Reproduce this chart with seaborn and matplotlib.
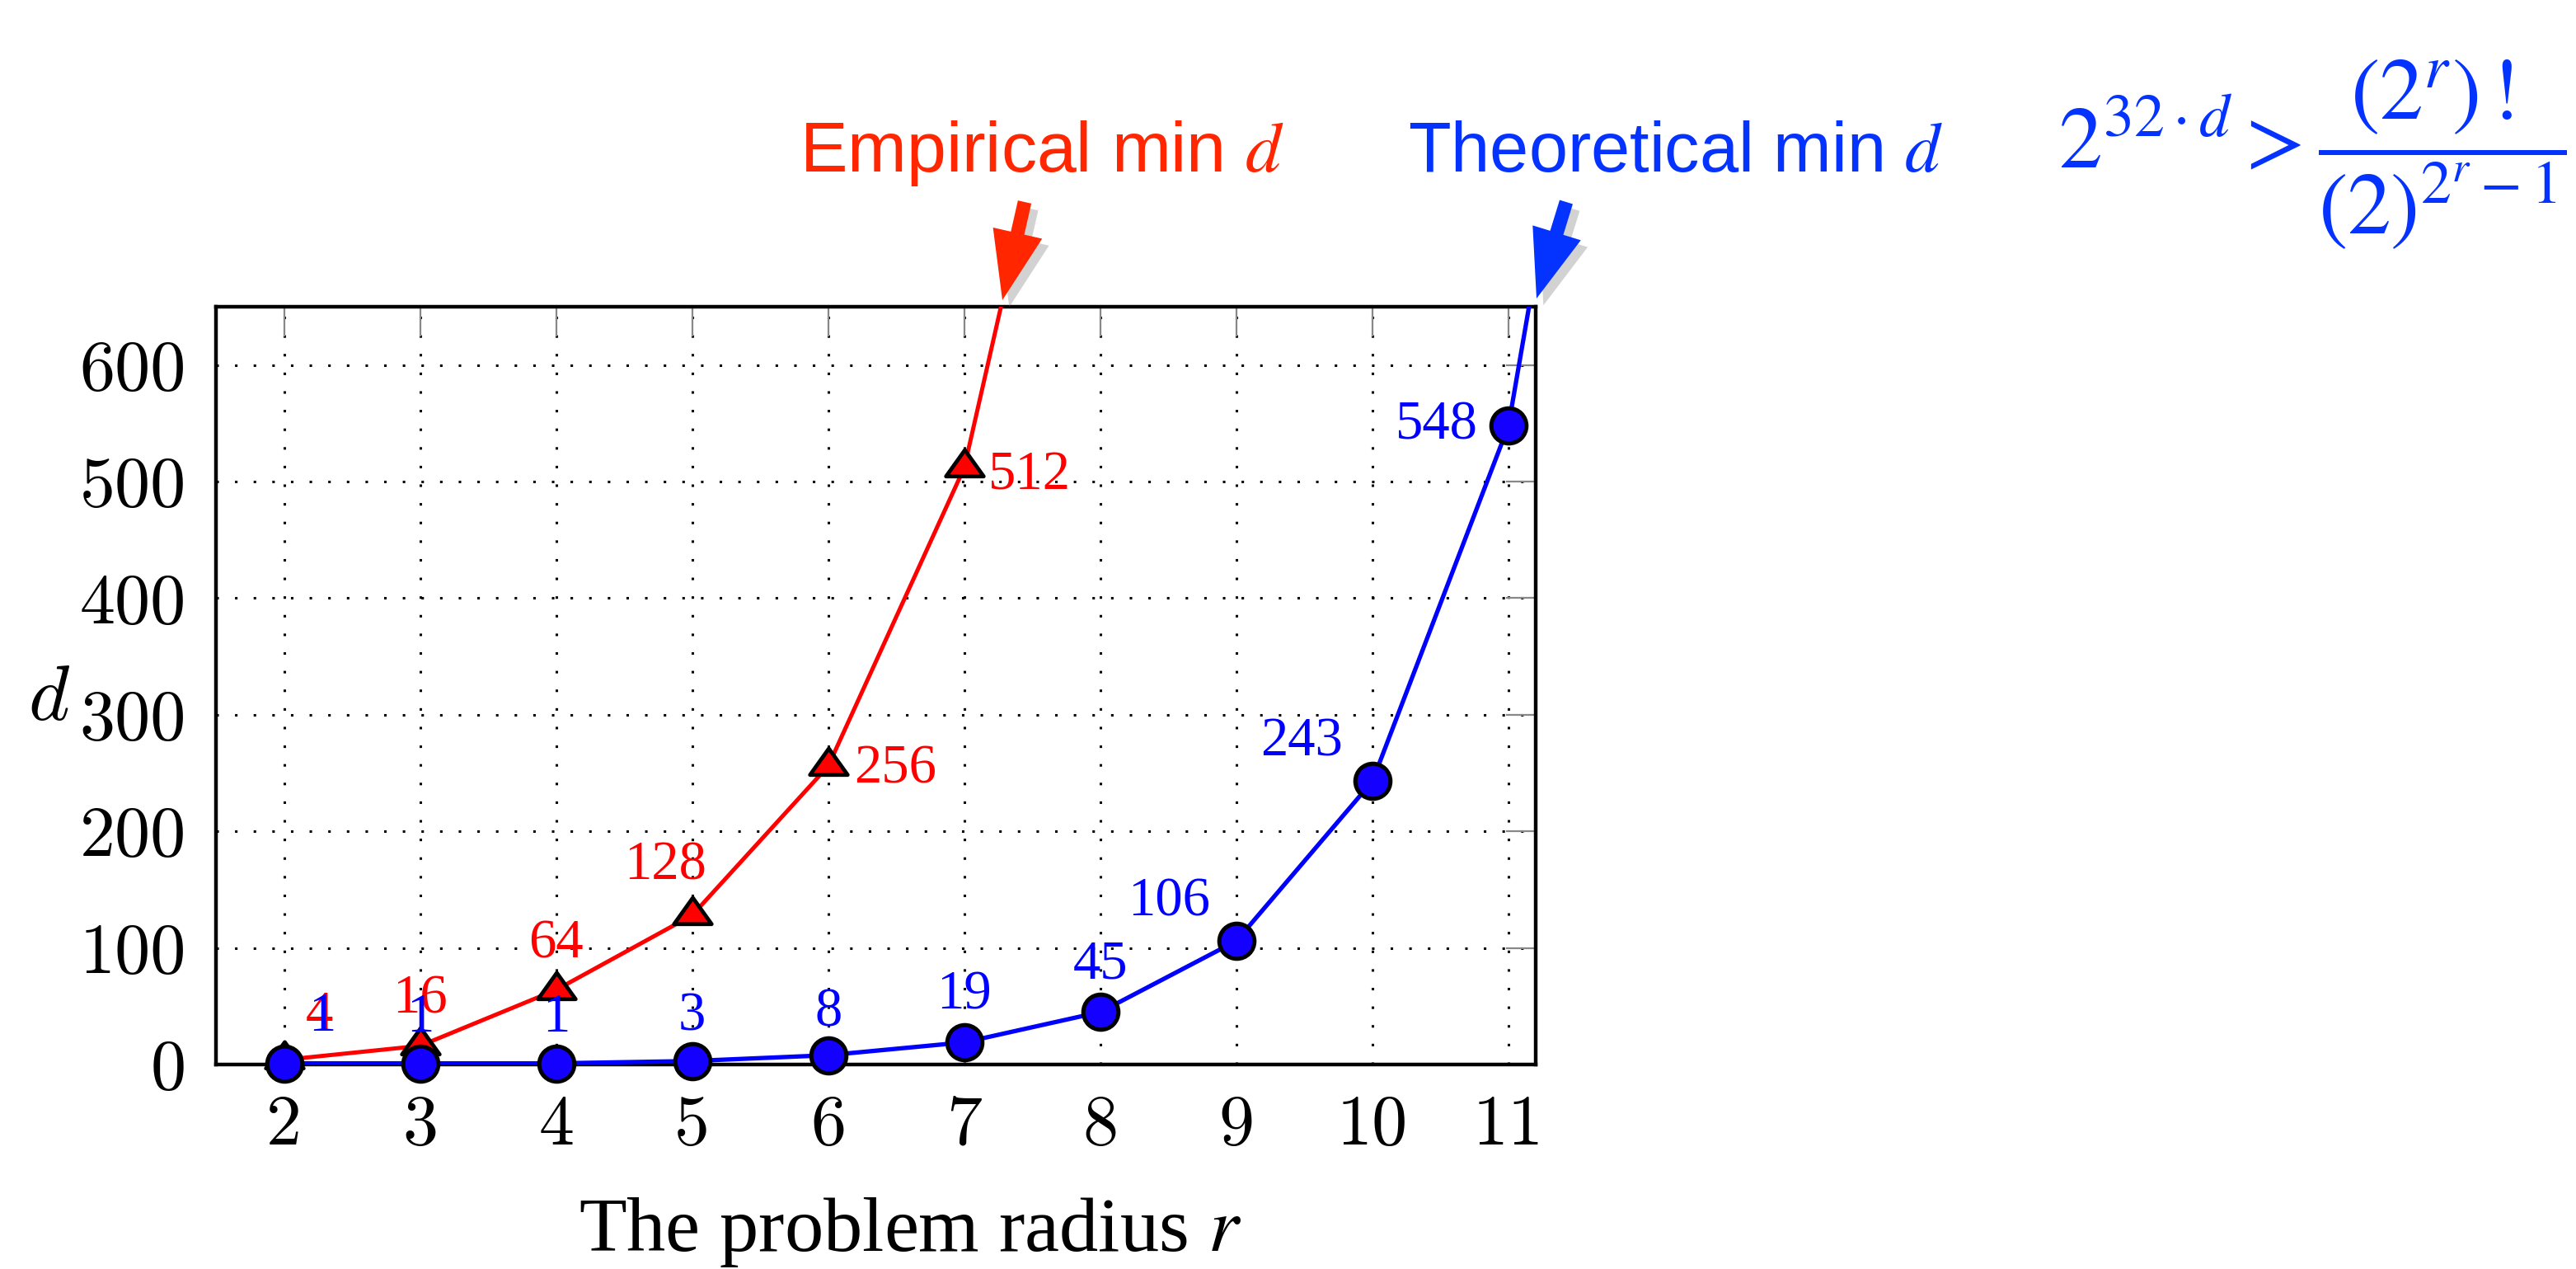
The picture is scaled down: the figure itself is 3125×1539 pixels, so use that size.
import matplotlib
matplotlib.use("Agg")
import matplotlib.pyplot as plt
import seaborn as sns
import numpy as np
from matplotlib.patches import FancyArrowPatch, ArrowStyle
from matplotlib.path import Path
from matplotlib import patheffects as pe

# ---------------- data ----------------
radius_emp = [2, 3, 4, 5, 6, 7, 8]
empirical_d = [4, 16, 64, 128, 256, 512, 1024]
radius_theo = [2, 3, 4, 5, 6, 7, 8, 9, 10, 11, 12]
theoretical_d = [1, 1, 1, 3, 8, 19, 45, 106, 243, 548, 1224]
n_emp_shown = 6      # points with marker + label (r = 2..7)
n_theo_shown = 10    # points with marker + label (r = 2..11)
x_ticks = [2, 3, 4, 5, 6, 7, 8, 9, 10, 11]
y_ticks = [0, 100, 200, 300, 400, 500, 600]

sns.set_style("white")
plt.rcParams["text.color"] = "black"
plt.rcParams["axes.labelcolor"] = "black"

DPI = 200
W, H = 3125, 1539
fig = plt.figure(figsize=(W / DPI, H / DPI), dpi=DPI)
PX = 72.0 / DPI  # px -> pt

# axes box (pixel coordinates of the reference)
L, R, T, B = 262, 1863, 372, 1291
ax = fig.add_axes([L / W, 1 - B / H, (R - L) / W, (B - T) / H])

RED = "#FF0000"
BLUE = "#0000FF"

# lines
sns.lineplot(x=radius_emp, y=empirical_d, ax=ax, color=RED, lw=1.8, zorder=3,
             estimator=None, sort=False)
sns.lineplot(x=radius_theo, y=theoretical_d, ax=ax, color=BLUE, lw=1.9, zorder=5,
             estimator=None, sort=False)

tri = Path([(-1, -0.45), (1, -0.45), (0, 0.95), (-1, -0.45)],
           [Path.MOVETO, Path.LINETO, Path.LINETO, Path.CLOSEPOLY])
sns.scatterplot(x=radius_emp[:n_emp_shown], y=empirical_d[:n_emp_shown], ax=ax,
                marker=tri, s=270, color=RED, edgecolor="black", linewidth=1.7,
                zorder=4, clip_on=False)
sns.scatterplot(x=radius_theo[:n_theo_shown], y=theoretical_d[:n_theo_shown], ax=ax,
                marker="o", s=235, color="#1400FF", edgecolor="black", linewidth=1.8,
                zorder=6, clip_on=False)

# data labels (offsets in reference pixels: dx right, dy up)
emp_offsets = [(43, 54), (0, 56), (0, 56), (-33, 60), (81, -4), (79, -10)]
theo_offsets = [(46, 56), (0, 55), (0, 55), (0, 54), (0, 52), (0, 57), (0, 57),
                (-82, 47), (-86, 47), (-87, 0)]
for x, y, (dx, dy) in zip(radius_emp, empirical_d, emp_offsets):
    ax.annotate(str(y), (x, y), xytext=(dx * PX, dy * PX), textcoords="offset points",
                ha="center", va="center", color=RED, fontsize=24,
                family="Liberation Serif", zorder=7, annotation_clip=False)
for x, y, (dx, dy) in zip(radius_theo, theoretical_d, theo_offsets):
    ax.annotate(str(y), (x, y), xytext=(dx * PX, dy * PX), textcoords="offset points",
                ha="center", va="center", color=BLUE, fontsize=24,
                family="Liberation Serif", zorder=8, annotation_clip=False)

# axes styling
ax.set_xlim(1.5, 11.2)
ax.set_ylim(0, 650)
ax.set_xticks(x_ticks)
ax.set_yticks(y_ticks)
ax.grid(True, color="black", linestyle=(0, (1, 6.4)), linewidth=1.1)
ax.set_axisbelow(True)
ax.tick_params(axis="both", direction="in", length=13, width=0.8, color="#888888",
               top=True, right=True, labelsize=31, pad=13, labelcolor="black")
for lab in ax.get_xticklabels() + ax.get_yticklabels():
    lab.set_fontfamily("cmr10")
for sp in ax.spines.values():
    sp.set_linewidth(1.6)
    sp.set_color("black")
    sp.set_visible(True)

ax.set_xlabel("The problem radius $r$", fontsize=34, family="Liberation Serif",
              math_fontfamily="stix")
ax.xaxis.label.set_va("baseline")
ax.xaxis.set_label_coords((1104 - L) / (R - L), (B - 1517) / (B - T))
ax.set_ylabel("$d$", rotation=0, fontsize=34, math_fontfamily="cm")
ax.yaxis.label.set_va("center")
ax.yaxis.label.set_ha("center")
ax.yaxis.set_label_coords((60 - L) / (R - L), (B - 847) / (B - T))

# annotations above the plot
fig.text(970 / W, 1 - 208 / H, "Empirical min $d$", color="#FF2600", fontsize=31,
         family="Liberation Sans", math_fontfamily="stix", ha="left", va="baseline")
fig.text(1708 / W, 1 - 208 / H, "Theoretical min $d$", color="#0433FF", fontsize=30.5,
         family="Liberation Sans", math_fontfamily="stix", ha="left", va="baseline")
fig.text(2497 / W, 1 - 203 / H,
         r"$2^{32\cdot d} > \dfrac{\left(2^{r}\right)\,!}{(2)^{2^{r}-1}}$",
         color="#0433FF", fontsize=38, math_fontfamily="stix", ha="left", va="baseline")

def fat_arrow(x0, y0, x1, y1, color):
    arr = FancyArrowPatch((x0 / W, 1 - y0 / H), (x1 / W, 1 - y1 / H),
                          transform=fig.transFigure,
                          arrowstyle=ArrowStyle.Simple(head_length=30, head_width=22,
                                                       tail_width=6),
                          mutation_scale=1, shrinkA=0, shrinkB=0,
                          color=color, lw=0, zorder=10)
    arr.set_path_effects([pe.SimplePatchShadow(offset=(3, -3), alpha=0.35,
                                               shadow_rgbFace="gray"), pe.Normal()])
    fig.add_artist(arr)

fat_arrow(1243, 245, 1216, 364, "#FF2600")
fat_arrow(1900, 245, 1864, 362, "#0433FF")

fig.savefig("out.png", dpi=DPI, facecolor="white")
